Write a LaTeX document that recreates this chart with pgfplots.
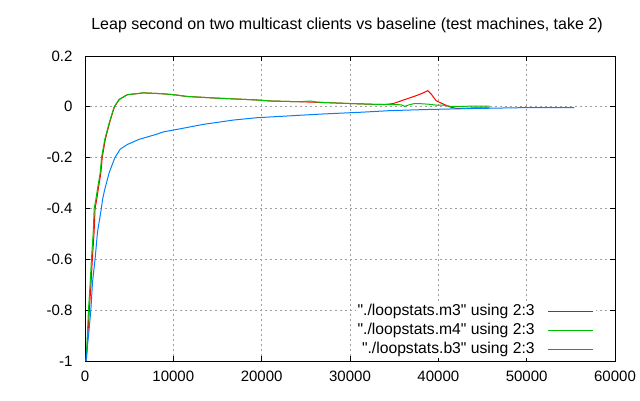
\documentclass[border=0pt]{standalone}
\usepackage{pgfplots}
\pgfplotsset{compat=1.18}
\usepackage{fontspec}
\setmainfont{Liberation Sans}[Ligatures=TeXOff]
\definecolor{gpred}{RGB}{255,0,0}
\definecolor{gpgreen}{RGB}{0,192,0}
\definecolor{gpblue}{RGB}{0,128,255}
\begin{document}
\begin{tikzpicture}[x=1pt,y=1pt]
\path[use as bounding box] (0,0) rectangle (640,400);
\begin{axis}[
  at={(85pt,39pt)}, anchor=south west,
  scale only axis, width=530pt, height=305pt,
  xmin=0, xmax=60000, ymin=-1, ymax=0.2,
  xtick={0,10000,20000,30000,40000,50000,60000},
  xticklabels={0,10000,20000,30000,40000,50000,60000},
  ytick={-1,-0.8,-0.6,-0.4,-0.2,0,0.2},
  yticklabels={-1,-0.8,-0.6,-0.4,-0.2,0,0.2},
  scaled x ticks=false,
  tick align=inside,
  major tick length=5pt,
  tick style={black, line width=0.8pt},
  axis line style={black, line width=1pt},
  grid=major,
  grid style={color=gray!75, dash pattern=on 2pt off 3pt, line width=0.8pt},
  font=\fontsize{15}{18}\selectfont,
  xticklabel style={yshift=-6pt},
  yticklabel style={xshift=-9pt},
  legend cell align=right,
  legend plot pos=right,
  legend style={draw=none, fill=white, at={(0.9642,0.008)}, anchor=south east,
    inner sep=2pt, row sep=5pt, column sep=13pt,
    font=\fontsize{15.7}{18}\selectfont,
    nodes={inner sep=0pt, text height=11pt, text depth=3pt}},
  legend image code/.code={\draw[#1, line width=1.2pt] (0pt,0pt) -- (45pt,0pt);},
  every axis plot/.append style={line width=1pt},
]
\addplot[gpred, sharp plot] coordinates {
(150,-1.0) (250,-0.94) (500,-0.795) (690,-0.69) (830,-0.6) (1030,-0.494) (1140,-0.4) (1330,-0.364) (1500,-0.324) (1800,-0.259) (1950,-0.2) (2300,-0.128) (2780,-0.063) (3330,0.0) (3880,0.029) (4800,0.048) (5930,0.052) (6600,0.055) (8500,0.052) (10000,0.048) (11500,0.041) (14500,0.035) (17000,0.031) (19400,0.027) (21000,0.023) (24300,0.02) (27000,0.017) (30000,0.013) (32600,0.01) (34000,0.009)
(34900,0.013) (35500,0.02) (36400,0.031) (37500,0.044) (38300,0.055) (38800,0.064) (39200,0.05) (39750,0.024) (40500,0.012) (41260,0.0) (42000,-0.006) (43000,-0.006) (44000,-0.004) (45800,-0.004)
};
\addlegendentry{"./loopstats.m3" using 2:3}
\addplot[gpgreen, sharp plot] coordinates {
(100,-1.0) (210,-0.94) (400,-0.795) (590,-0.69) (730,-0.6) (930,-0.494) (1040,-0.4) (1230,-0.364) (1410,-0.324) (1720,-0.259) (1870,-0.2) (2240,-0.128) (2740,-0.063) (3300,0.0) (3860,0.029) (4800,0.048) (5930,0.052) (6600,0.055) (8500,0.052) (10000,0.048) (11500,0.041) (14500,0.035) (17000,0.031) (19400,0.027) (21000,0.023) (24300,0.02) (25500,0.023) (26200,0.019) (27000,0.017) (30000,0.013) (32600,0.01) (34800,0.009)
(35800,0.008) (36200,0.002) (36700,0.008) (37300,0.013) (38200,0.012) (39000,0.01) (39700,0.007) (40900,0.006) (41300,0.002) (43000,0.002) (44000,0.003) (45800,0.003)
};
\addlegendentry{"./loopstats.m4" using 2:3}
\addplot[gpblue, sharp plot] coordinates {
(135,-1.0) (280,-0.94) (440,-0.886) (670,-0.795) (850,-0.69) (1150,-0.596) (1410,-0.494) (1850,-0.4) (1990,-0.364) (2240,-0.324) (2740,-0.259) (3380,-0.2) (3980,-0.167) (4800,-0.148) (6120,-0.128) (8000,-0.109) (8950,-0.098) (10380,-0.089) (13400,-0.069) (16800,-0.052) (19400,-0.043) (23900,-0.034) (27000,-0.028) (31400,-0.021) (34500,-0.015) (38200,-0.011) (43200,-0.007) (50000,-0.003) (55400,-0.003)
};
\addlegendentry{"./loopstats.b3" using 2:3}
\end{axis}
\node[font=\fontsize{16}{19}\selectfont] at (347,375) {Leap second on two multicast clients vs baseline (test machines, take 2)};
\end{tikzpicture}
\end{document}
